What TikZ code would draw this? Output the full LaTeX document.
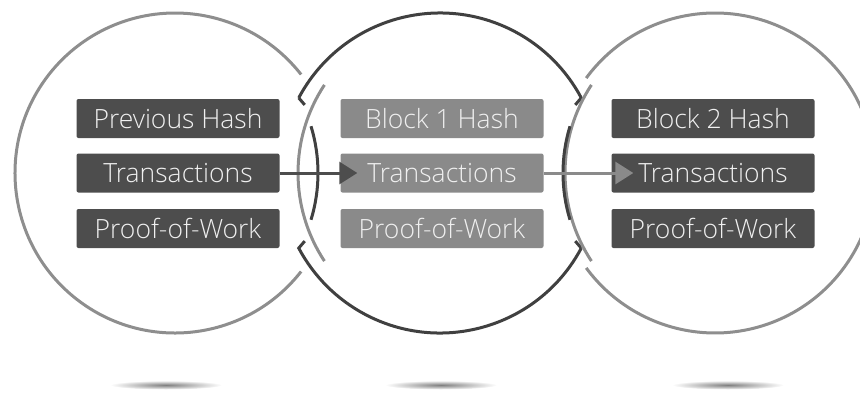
\documentclass[tikz,border=0pt]{standalone}
\usepackage{fontspec}
\IfFontExistsTF{Open Sans Light}
  {\newfontfamily\boxfont{Open Sans Light}}
  {\newfontfamily\boxfont{Open Sans}}
\usetikzlibrary{arrows.meta}

\definecolor{boxdark}{HTML}{4D4D4D}
\definecolor{boxlight}{HTML}{8A8A8A}
\definecolor{ringdark}{HTML}{404040}
\definecolor{ringlight}{HTML}{8E8E8E}
\definecolor{txtlight}{HTML}{F0F0F0}

\begin{document}
\begin{tikzpicture}[x=1pt,y=-1pt,
    darkbox/.style={fill=boxdark, rounded corners=2pt, inner sep=0pt,
      minimum width=203pt, minimum height=39pt, text=txtlight,
      font=\boxfont\fontsize{26.5}{26.5}\selectfont},
    lightbox/.style={darkbox, fill=boxlight},
    ring/.style={line width=3pt},
    shadowblob/.style={inner color=black!50, outer color=white}]
  \useasboundingbox (0,0) rectangle (860,394);

  % shadows under the links
  \foreach \cx in {166,441,728}
    \shade[shadowblob] (\cx,385) ellipse (56 and 4.5);

  % left link
  \draw[ring, ringlight] (175,173) ++(38:160) arc (38:322:160);
  % right link (runs off the edge)
  \begin{scope}
    \clip (0,0) rectangle (860,394);
    \draw[ring, ringlight] (715,173) ++(-143.6:160) arc (-143.6:143.6:160);
  \end{scope}
  % middle link
  \draw[ring, ringdark] (440,173) ++(208:160) arc (208:332:160) -- ++(-6,7);
  \draw[ring, ringdark] (440,173) ++(208:160) -- ++(6,7);
  \draw[ring, ringdark] (440,173) ++(28:160) arc (28:152:160) -- ++(6,-7);
  \draw[ring, ringdark] (440,173) ++(28:160) -- ++(-6,-7);

  % joints where the links cross
  \draw[ring, ringlight] (458,173) ++(213.4:160) arc (213.4:146.6:160);
  \draw[ring, ringdark] (158,173) ++(-17:160) arc (-17:17:160);
  \draw[ring, ringlight] (725,173) ++(213.4:160) arc (213.4:146.6:160);
  \draw[ring, ringdark] (723,173) ++(197:160) arc (197:163:160);

  % blocks
  \node[darkbox] (prevhash) at (178,118.5) {Previous Hash};
  \node[darkbox] (txA) at (178,173) {Transactions};
  \node[darkbox] (powA) at (178,228.5) {Proof-of-Work};

  \node[lightbox] (hashB) at (442,118.5) {Block 1 Hash};
  \node[lightbox] (txB) at (442,173) {Transactions};
  \node[lightbox] (powB) at (442,228.5) {Proof-of-Work};

  \node[darkbox] (hashC) at (713,118.5) {Block 2 Hash};
  \node[darkbox] (txC) at (713,173) {Transactions};
  \node[darkbox] (powC) at (713,228.5) {Proof-of-Work};

  % links between the transaction lists
  \draw[line width=3pt, boxdark, -{Triangle[length=18pt,width=22pt]}]
    (txA.east) -- ([xshift=17pt]txB.west);
  \draw[line width=3pt, boxlight, -{Triangle[length=18pt,width=22pt]}]
    (txB.east) -- ([xshift=22pt]txC.west);
\end{tikzpicture}
\end{document}
